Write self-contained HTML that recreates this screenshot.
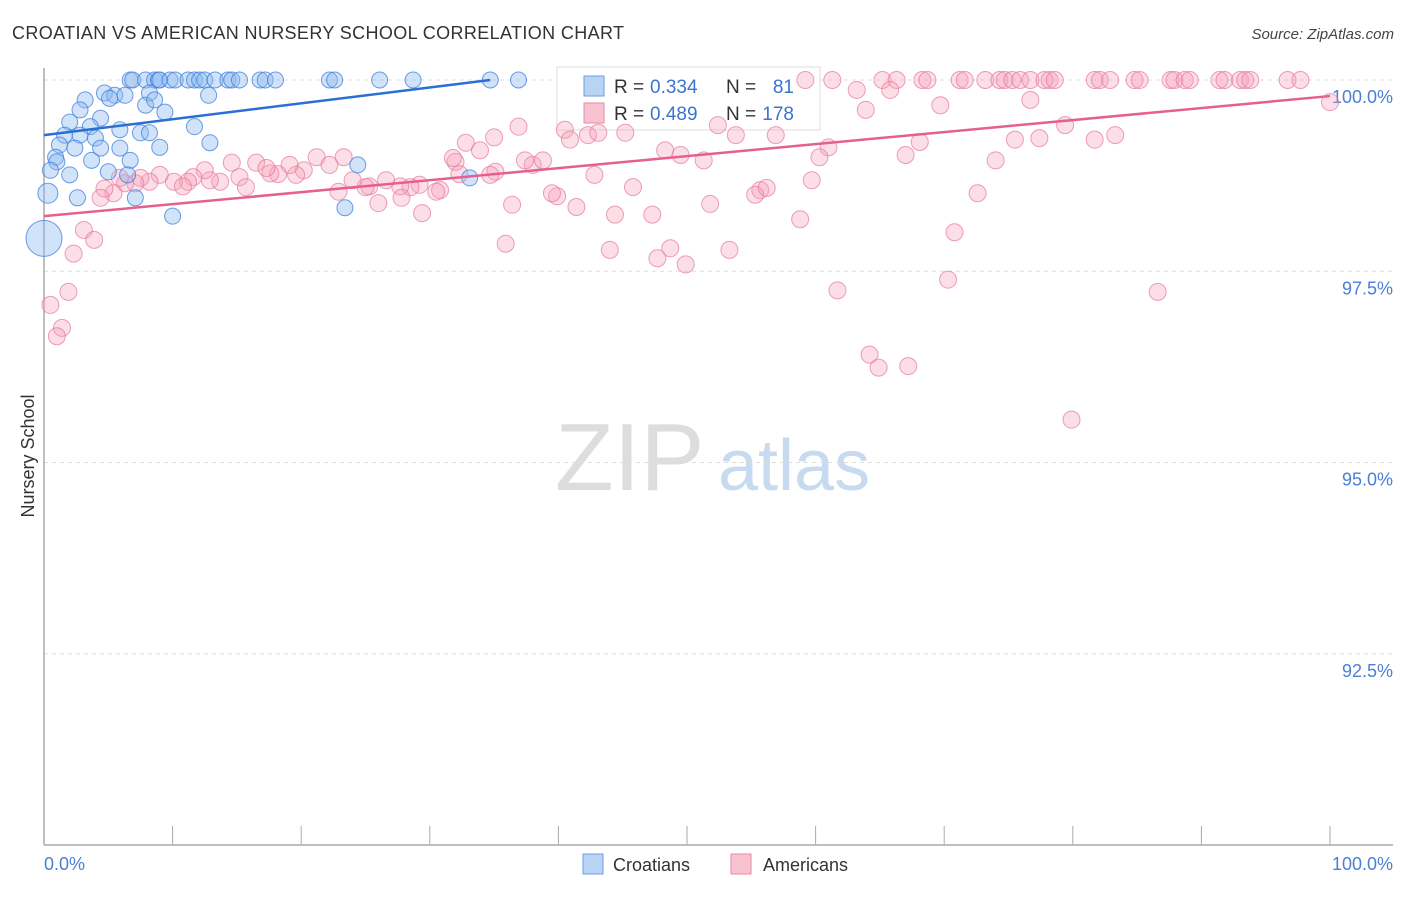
<!DOCTYPE html>
<html><head><meta charset="utf-8"><style>
body{margin:0;background:#fff;font-family:"Liberation Sans",sans-serif}
svg text{font-family:"Liberation Sans",sans-serif}
</style></head><body>
<svg id="chart" width="1406" height="892" viewBox="0 0 1406 892" xmlns="http://www.w3.org/2000/svg">
<text x="12" y="39" font-size="18" fill="#333" textLength="612">CROATIAN VS AMERICAN NURSERY SCHOOL CORRELATION CHART</text>
<text x="1394" y="39" font-size="15" fill="#444" text-anchor="end" font-style="italic">Source: ZipAtlas.com</text>
<g>
<text x="555" y="490" font-size="96" font-family="Liberation Serif,serif" fill="#ddd">ZIP</text>
<text x="718" y="490" font-size="72" fill="#c8daf0">atlas</text>
</g>
<g id="grid"></g>
<line x1="44" y1="68" x2="44" y2="845" stroke="#aaa" stroke-width="1.5"/>
<line x1="44" y1="845" x2="1393" y2="845" stroke="#aaa" stroke-width="1.5"/>
<text transform="translate(34,456) rotate(-90)" font-size="18" fill="#333" text-anchor="middle">Nursery School</text>
<text x="44" y="870" font-size="18" fill="#4a7fd4">0.0%</text>
<text x="1393" y="870" font-size="18" fill="#4a7fd4" text-anchor="end">100.0%</text>
<g>
<rect x="557" y="67" width="263" height="63" fill="#fff" stroke="#ddd"/>
<rect x="584" y="76" width="20" height="20" fill="#b9d3f5" stroke="#6a9ee6"/>
<text x="614" y="93" font-size="19" fill="#333">R =</text>
<text x="650" y="93" font-size="19" fill="#3b73d1">0.334</text>
<text x="726" y="93" font-size="19" fill="#333">N =</text>
<text x="794" y="93" font-size="19" fill="#3b73d1" text-anchor="end">81</text>
<rect x="584" y="103" width="20" height="20" fill="#f8c3d1" stroke="#e98aa6"/>
<text x="614" y="120" font-size="19" fill="#333">R =</text>
<text x="650" y="120" font-size="19" fill="#3b73d1">0.489</text>
<text x="726" y="120" font-size="19" fill="#333">N =</text>
<text x="794" y="120" font-size="19" fill="#3b73d1" text-anchor="end">178</text>
</g>
<g id="pts"></g>
<g id="trends"></g>
<g>
<rect x="583" y="854" width="20" height="20" fill="#b9d3f5" stroke="#6a9ee6"/>
<text x="613" y="871" font-size="18" fill="#333">Croatians</text></g>
<g>
<rect x="731" y="854" width="20" height="20" fill="#f8c3d1" stroke="#e98aa6"/>
<text x="763" y="871" font-size="18" fill="#333">Americans</text></g>
</svg>
<script>
const yTicks=[100,97.5,95,92.5];
const yTickLabels=["100.0%","97.5%","95.0%","92.5%"];
const xTicks=[0,10,20,30,40,50,60,70,80,90,100];
const croX=[6.7,6.9,7.9,8.6,8.9,9.0,9.8,10.2,11.2,11.7,12.1,12.5,13.3,14.3,14.6,15.2,16.8,17.2,18.0,22.2,22.6,26.1,28.7,34.7,36.9,4.7,5.5,6.3,8.2,12.8,3.2,5.1,7.9,8.6,2.8,4.4,9.4,2.0,3.6,5.9,7.5,8.2,11.7,1.6,2.8,4.0,1.2,2.4,4.4,5.9,9.0,12.9,0.9,3.7,6.7,1.0,0.5,2.0,5.0,6.5,24.4,33.1,0.3,2.6,7.1,10.0,23.4,0];
const croY=[100,100,100,100,100,100,100,100,100,100,100,100,100,100,100,100,100,100,100,100,100,100,100,100,100,99.83,99.80,99.80,99.83,99.80,99.74,99.76,99.67,99.74,99.61,99.50,99.58,99.45,99.39,99.35,99.31,99.31,99.39,99.28,99.28,99.24,99.15,99.11,99.11,99.11,99.12,99.18,98.99,98.95,98.95,98.93,98.82,98.76,98.80,98.76,98.89,98.72,98.52,98.46,98.46,98.22,98.33,97.93];
const croR=[8,8,8,8,8,8,8,8,8,8,8,8,8,8,8,8,8,8,8,8,8,8,8,8,8,8,8,8,8,8,8,8,8,8,8,8,8,8,8,8,8,8,8,8,8,8,8,8,8,8,8,8,8,8,8,8,8,8,8,8,8,8,10,8,8,8,8,18];
const amX=[59.2,61.3,65.2,66.3,68.3,68.7,71.2,71.6,73.2,74.3,74.7,75.3,75.9,76.7,77.8,78.2,78.6,81.7,82.1,82.9,84.8,85.2,87.6,87.9,88.7,89.1,91.4,91.8,93.0,93.4,93.8,96.7,97.7,
100,63.2,65.8,63.9,69.7,76.7,79.4,83.3,77.4,75.5,81.7,74.0,68.1,67.0,61.0,60.3,59.7,72.6,70.8,70.3,86.6,61.7,64.2,64.9,67.2,79.9,58.8,55.7,55.3,56.2,51.8,53.3,49.9,48.7,47.7,44.0,35.9,47.3,44.4,41.4,36.4,39.9,39.5,45.8,42.8,38.0,38.8,37.4,35.1,34.7,33.9,32.8,35.0,36.9,40.5,40.9,42.3,43.1,45.2,52.4,53.8,56.9,48.3,49.5,51.3,32.0,31.8,32.3,30.8,30.5,29.2,28.5,27.7,26.6,25.3,25.0,24.0,22.9,26.0,27.8,29.4,23.3,21.2,22.2,20.2,19.6,18.2,17.6,19.1,16.5,17.3,15.2,14.6,15.7,13.7,12.9,12.5,11.6,11.2,10.1,10.8,9.0,8.2,7.5,7.1,6.3,5.9,5.4,4.7,4.4,3.1,3.9,2.3,1.9,1.4,1.0,0.5];
const amY=[100,100,100,100,100,100,100,100,100,100,100,100,100,100,100,100,100,100,100,100,100,100,100,100,100,100,100,100,100,100,100,100,100,
99.71,99.87,99.87,99.61,99.67,99.74,99.41,99.28,99.24,99.22,99.22,98.95,99.19,99.02,99.12,98.99,98.69,98.52,98.01,97.39,97.23,97.25,96.41,96.24,96.26,95.56,98.18,98.56,98.50,98.59,98.38,97.78,97.59,97.80,97.67,97.78,97.86,98.24,98.24,98.34,98.37,98.48,98.52,98.60,98.76,98.89,98.95,98.95,98.80,98.76,99.08,99.18,99.25,99.39,99.35,99.22,99.28,99.31,99.31,99.41,99.28,99.28,99.08,99.02,98.95,98.93,98.98,98.77,98.56,98.54,98.63,98.60,98.61,98.69,98.61,98.60,98.69,98.54,98.39,98.46,98.26,98.99,98.99,98.89,98.82,98.76,98.77,98.78,98.89,98.92,98.85,98.73,98.92,98.60,98.67,98.69,98.82,98.73,98.67,98.67,98.61,98.76,98.67,98.72,98.65,98.65,98.72,98.52,98.58,98.46,98.04,97.91,97.73,97.23,96.76,96.65,97.06];
const croTrend=[[0,99.28],[34.7,100]];
const amTrend=[[0,98.22],[100,99.79]];
const sx=v=>44+v*12.86;
const sy=v=>80+(100-v)*76.5;
const NS="http://www.w3.org/2000/svg";
function mk(t,a,p){const e=document.createElementNS(NS,t);for(const k in a)e.setAttribute(k,a[k]);p.appendChild(e);return e;}
const grid=document.getElementById('grid');
yTicks.forEach((v,i)=>{
 const l=mk('line',{x1:44,x2:1393,y1:sy(v),y2:sy(v),stroke:'#ddd','stroke-dasharray':'4,4'},grid);
 
 
 const t=mk('text',{x:1393,y:sy(v)+23,'font-size':18,fill:'#4a7fd4','text-anchor':'end'},grid);
 t.textContent=yTickLabels[i];
 
 
});
xTicks.forEach(v=>{
 const l=mk('line',{x1:sx(v),x2:sx(v),y1:826,y2:845,stroke:'#aaa'},grid);
 
 
});
const pts=document.getElementById('pts');
amX.forEach((x,i)=>{
 const c=mk('circle',{cx:sx(x),cy:sy(amY[i]),r:(i>=150&&i<=151)?11:8.5,fill:'rgba(245,160,185,0.35)',stroke:'rgba(230,120,155,0.7)','stroke-width':1},pts);
 
 
});
croX.forEach((x,i)=>{
 const c=mk('circle',{cx:sx(x),cy:sy(croY[i]),r:croR[i],fill:'rgba(140,185,240,0.4)',stroke:'rgba(60,125,220,0.75)','stroke-width':1},pts);
 
 
});
const tr=document.getElementById('trends');
const l1=mk('line',{x1:sx(croTrend[0][0]),y1:sy(croTrend[0][1]),x2:sx(croTrend[1][0]),y2:sy(croTrend[1][1]),stroke:'#2a6fd6','stroke-width':2.5},tr);


const l2=mk('line',{x1:sx(amTrend[0][0]),y1:sy(amTrend[0][1]),x2:sx(amTrend[1][0]),y2:sy(amTrend[1][1]),stroke:'#e5608c','stroke-width':2.5},tr);


</script>
</body></html>
